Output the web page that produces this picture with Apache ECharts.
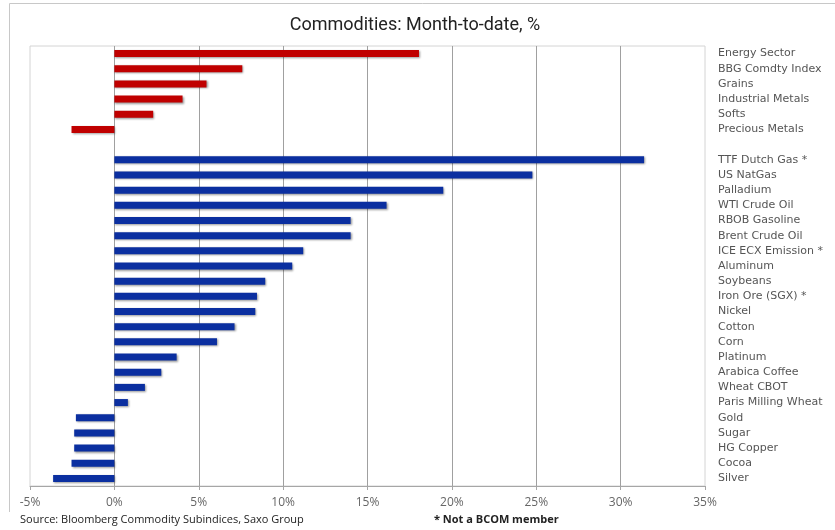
<!DOCTYPE html>
<html>
<head>
<meta charset="utf-8">
<script src="https://cdn.jsdelivr.net/npm/echarts@6/dist/echarts.min.js"></script>
<style>html,body{margin:0;padding:0;background:#fff}#c{width:835px;height:530px}</style>
</head>
<body>
<div id="c"></div>
<script>
const sectorNames = ['Energy Sector','BBG Comdty Index','Grains','Industrial Metals','Softs','Precious Metals'];
const sectorValues = [18.05, 7.58, 5.46, 4.04, 2.30, -2.54];
const commodityNames = ['TTF Dutch Gas *','US NatGas','Palladium','WTI Crude Oil','RBOB Gasoline','Brent Crude Oil','ICE ECX Emission *','Aluminum','Soybeans','Iron Ore (SGX) *','Nickel','Cotton','Corn','Platinum','Arabica Coffee','Wheat CBOT','Paris Milling Wheat','Gold','Sugar','HG Copper','Cocoa','Silver'];
const commodityValues = [31.39, 24.77, 19.49, 16.13, 14.0, 14.0, 11.19, 10.54, 8.94, 8.45, 8.35, 7.12, 6.08, 3.69, 2.78, 1.81, 0.80, -2.28, -2.38, -2.38, -2.54, -3.63];
const xTicks = [-5, 0, 5, 10, 15, 20, 25, 30, 35];

const categories = [...sectorNames, ' ', ...commodityNames];
const redData = [...sectorValues, '-', ...commodityNames.map(() => '-')];
const blueData = [...sectorNames.map(() => '-'), '-', ...commodityValues];

const chart = echarts.init(document.getElementById('c'));
const shadow = {shadowColor:'rgba(0,0,0,0.4)', shadowBlur:2, shadowOffsetX:1, shadowOffsetY:1};
chart.setOption({
  animation:false,
  title:{text:'Commodities: Month-to-date, %', left:410, top:11, textAlign:'center',
    textStyle:{fontFamily:'Roboto', fontSize:18, fontWeight:'normal', color:'#222'}},
  grid:{left:30, right:130, top:46, bottom:44, show:true, borderColor:'#d4d4d4', borderWidth:1},
  xAxis:{type:'value', min:xTicks[0], max:xTicks[xTicks.length-1], interval:5,
    axisLine:{show:true, onZero:false, lineStyle:{color:'#a6a6a6'}},
    axisTick:{show:true, length:4, lineStyle:{color:'#a6a6a6'}},
    splitLine:{show:true, showMinLine:false, showMaxLine:false, lineStyle:{color:'#a0a0a0', width:1}},
    axisLabel:{formatter:'{value}%', color:'#666', fontFamily:'Open Sans', fontSize:12, margin:11}},
  yAxis:{type:'category', data:categories, inverse:true, position:'right',
    axisLine:{show:false}, axisTick:{show:false}, splitLine:{show:false},
    axisLabel:{color:'#555', fontFamily:'DejaVu Sans', fontSize:11, margin:13, interval:0}},
  series:[
    {type:'bar', data:redData, stack:'a', barWidth:7, itemStyle:Object.assign({color:'#c00000'}, shadow)},
    {type:'bar', data:blueData, stack:'a', barWidth:7, itemStyle:Object.assign({color:'#0b2fa0'}, shadow)}
  ],
  graphic:[
    {type:'line', shape:{x1:9.5,y1:3.5,x2:835,y2:3.5}, style:{stroke:'#c8c8c8', lineWidth:1}},
    {type:'line', shape:{x1:9.5,y1:3.5,x2:9.5,y2:512}, style:{stroke:'#c8c8c8', lineWidth:1}},
    {type:'text', left:20, top:514, style:{text:'Source: Bloomberg Commodity Subindices, Saxo Group', font:'11px "Open Sans"', fill:'#222'}},
    {type:'text', left:434, top:514, style:{text:'* Not a BCOM member', font:'bold 11px "Open Sans"', fill:'#222'}}
  ]
});
</script>
</body>
</html>
